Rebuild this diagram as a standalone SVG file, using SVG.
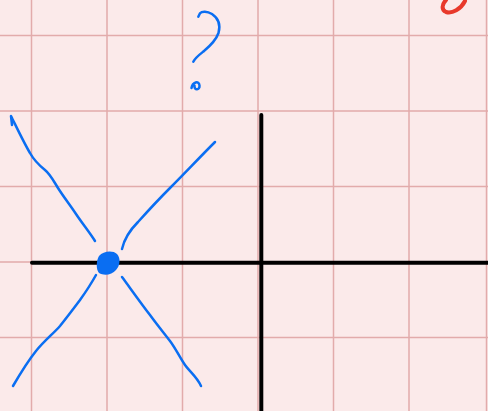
<svg xmlns="http://www.w3.org/2000/svg" width="488" height="411" viewBox="0 0 488 411">
<defs>
<style>
.grid{stroke:#e2abab;stroke-width:1.5;fill:none}
.axis{stroke:#000;stroke-width:4;fill:none;stroke-linecap:round}
.pen{stroke:#0a6ef2;stroke-width:2.5;fill:none;stroke-linecap:round;stroke-linejoin:round}
.red{stroke:#e8392b;stroke-width:4;fill:none;stroke-linecap:round}
</style>
</defs>
<rect width="488" height="411" fill="#fbeaea"/>
<g id="grid" class="grid">
<path d="M31.5,0V411M107,0V411M182.5,0V411M258,0V411M333.5,0V411M409,0V411M486.5,0V411"/>
<path d="M0,35.5H488M0,111H488M0,186.5H488M0,262H488M0,337.5H488"/>
</g>
<g id="axes" class="axis">
<path d="M32,262.7H488"/>
<path d="M261.3,115V411"/>
</g>
<g id="connectors" class="pen">
<path d="M12,125L11,116C16,126 24,143 30,153C35,162 40,166 45,170C50,174 53,180 58,188C63,196 70,205 76,214C82,223 90,233 95,241"/>
<path d="M215,142C200,157 183,175 170,188C158,200 147,212 138,222C130,230 124,240 122,249"/>
<path d="M96,275C91,284 85,293 80,300C74,308 68,316 60,326C54,333 44,341 36,351C28,361 20,374 13,386"/>
<path d="M122,277C128,285 140,302 150,315C158,326 164,333 170,341C176,349 180,358 185,365C190,372 197,377 201,386"/>
</g>
<g id="point">
<path d="M99,256C103,251 113,250 117,254C121,258 120,266 116,270C112,275 104,276 99,273C96,270 96,261 99,256Z" fill="#0a6ef2"/>
</g>
<g id="question" class="pen">
<path d="M198.3,16.7L200,13.3C202,11 207,11 212,14C218,18 221,24 218.5,33C216,40 210,46 204,51C199,55 195,58 193.3,61.7"/>
<path d="M191.5,88C192.5,82 199,80 199.5,85.5C200,90 194,91 194.5,85.5"/>
</g>
<g id="red-mark">
<path class="red" d="M446,0C442,4 441,10 446,12C452,14 461,9 465,1"/>
</g>
</svg>
